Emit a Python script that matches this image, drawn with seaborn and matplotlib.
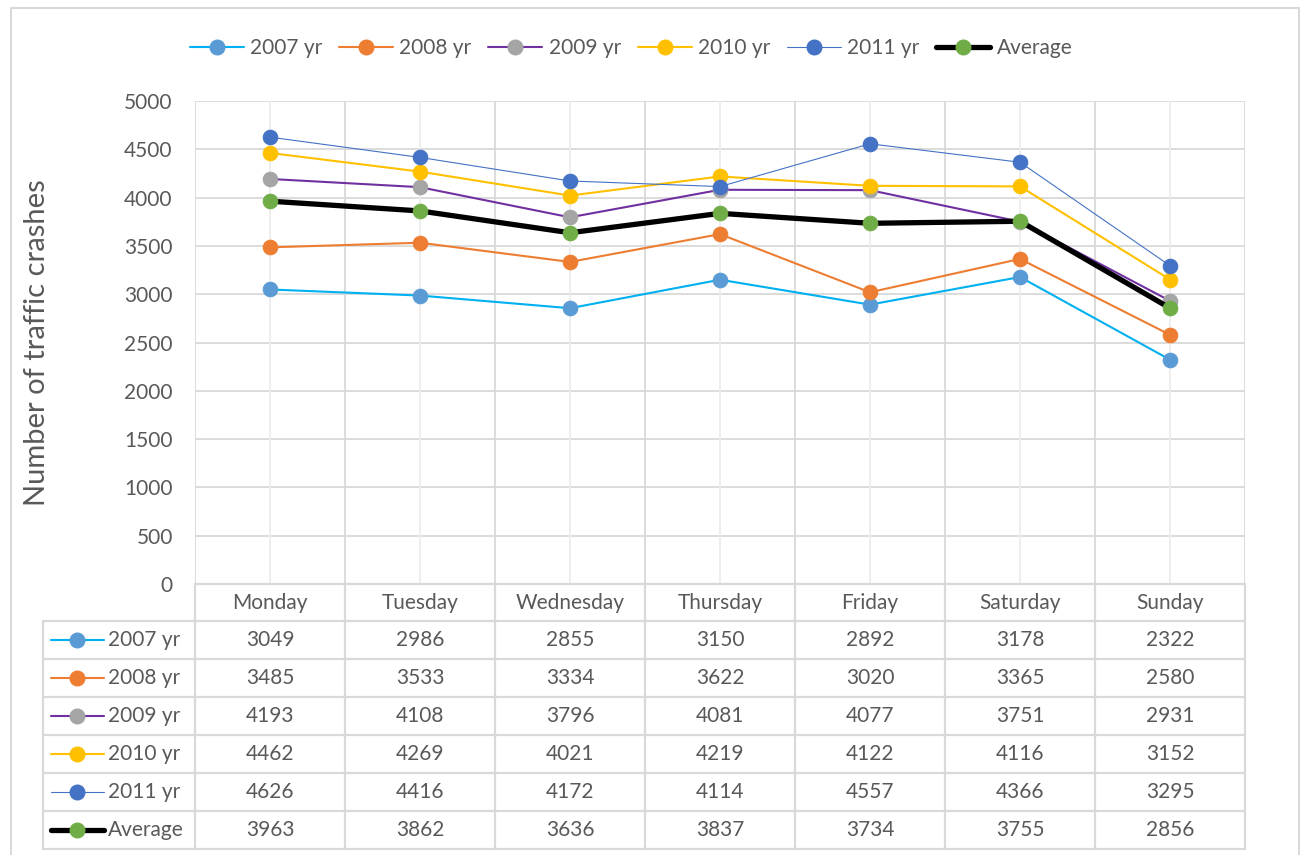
import matplotlib
matplotlib.use("Agg")
import matplotlib.pyplot as plt
from matplotlib.lines import Line2D
import seaborn as sns
import pandas as pd

days = ["Monday", "Tuesday", "Wednesday", "Thursday", "Friday", "Saturday", "Sunday"]
series_names = ["2007 yr", "2008 yr", "2009 yr", "2010 yr", "2011 yr", "Average"]
y2007 = [3049, 2986, 2855, 3150, 2892, 3178, 2322]
y2008 = [3485, 3533, 3334, 3622, 3020, 3365, 2580]
y2009 = [4193, 4108, 3796, 4081, 4077, 3751, 2931]
y2010 = [4462, 4269, 4021, 4219, 4122, 4116, 3152]
y2011 = [4626, 4416, 4172, 4114, 4557, 4366, 3295]
y_avg = [3963, 3862, 3636, 3837, 3734, 3755, 2856]
all_values = [y2007, y2008, y2009, y2010, y2011, y_avg]

# line colour, marker colour, line width (pt)
styles = [
    ("#00B0F0", "#5B9BD5", 1.5),
    ("#ED7D31", "#ED7D31", 1.5),
    ("#7030A0", "#A5A5A5", 1.5),
    ("#FFC000", "#FFC000", 1.5),
    ("#4472C4", "#4472C4", 0.8),
    ("#000000", "#70AD47", 3.8),
]

TXT = "#595959"
GRID = "#D9D9D9"
FS = 15

sns.set_theme(style="white")
plt.rcParams["font.family"] = ["Lato", "DejaVu Sans"]

W, H = 1301, 855
fig = plt.figure(figsize=(W / 100, H / 100), dpi=100)

# pixel helpers
def fx(px):
    return px / W

def fy(py):
    return 1 - py / H

left, right, top, bottom = 195, 1245, 101, 584
ax = fig.add_axes([fx(left), fy(bottom), fx(right - left), (bottom - top) / H])

df = pd.DataFrame({"day": days})
for name, vals in zip(series_names, all_values):
    df[name] = vals

handles = []
for name, (lc, mc, lw) in zip(series_names, styles):
    sns.lineplot(data=df, x="day", y=name, ax=ax, color=lc, lw=lw, marker="o",
                 markersize=10.5, markerfacecolor=mc, markeredgecolor=mc,
                 sort=False, legend=False)
    handles.append(Line2D([], [], color=lc, lw=lw, marker="o", markersize=10.5,
                          markerfacecolor=mc, markeredgecolor=mc))

ax.set_xlim(-0.5, 6.5)
ax.set_ylim(0, 5000)
ax.set_yticks(range(0, 5001, 500))
ax.set_xticks([])
ax.set_xlabel("")
ax.set_ylabel("Number of traffic crashes", fontsize=21, color=TXT)
ax.yaxis.set_label_coords((50 - left) / (right - left), 0.5)
ax.tick_params(axis="y", labelsize=FS, labelcolor=TXT, length=0, pad=16)
ax.grid(False)
for v in range(0, 5001, 500):
    ax.axhline(v, color=GRID, lw=1.3, zorder=0)
for i in range(15):
    ax.axvline(-0.5 + i * 0.5, color=GRID if i % 2 == 0 else "#EDEDED", lw=1.3, zorder=0)
for s in ax.spines.values():
    s.set_visible(False)

# legend at the top
fig.legend(handles, series_names, loc="center", bbox_to_anchor=(fx(631), fy(48)),
           ncol=6, frameon=False, fontsize=FS, handlelength=2.6,
           handletextpad=0.3, columnspacing=0.8, labelcolor=TXT)

# data table below the plot
col_w = (right - left) / 7
row_h = 38.0
tab_left = 43
rows_top = bottom + 37
rows_bot = rows_top + 6 * row_h
lkw = dict(color=GRID, lw=1.6, transform=fig.transFigure, clip_on=False)

# header row
for i in range(8):
    x = left + i * col_w
    fig.add_artist(Line2D([fx(x), fx(x)], [fy(bottom), fy(rows_bot)], **lkw))
fig.add_artist(Line2D([fx(left), fx(right)], [fy(bottom), fy(bottom)], **lkw))
for i, d in enumerate(days):
    fig.text(fx(left + (i + 0.5) * col_w), fy(bottom + 18.5), d, ha="center",
             va="center", fontsize=FS, color=TXT)

# body rows
for r in range(7):
    y = rows_top + r * row_h
    fig.add_artist(Line2D([fx(tab_left), fx(right)], [fy(y), fy(y)], **lkw))
fig.add_artist(Line2D([fx(tab_left), fx(tab_left)], [fy(rows_top), fy(rows_bot)], **lkw))

for r, (name, vals, (lc, mc, lw)) in enumerate(zip(series_names, all_values, styles)):
    yc = rows_top + (r + 0.5) * row_h
    fig.add_artist(Line2D([fx(51), fx(104)], [fy(yc), fy(yc)], color=lc, lw=lw,
                          transform=fig.transFigure))
    fig.add_artist(Line2D([fx(77)], [fy(yc)], marker="o", markersize=10.5,
                          markerfacecolor=mc, markeredgecolor=mc, lw=0,
                          transform=fig.transFigure))
    fig.text(fx(108), fy(yc), name, ha="left", va="center", fontsize=FS, color=TXT)
    for i, v in enumerate(vals):
        fig.text(fx(left + (i + 0.5) * col_w), fy(yc), str(v), ha="center",
                 va="center", fontsize=FS, color=TXT)

# outer frame of the chart
fig.add_artist(Line2D([fx(11), fx(11), fx(1299), fx(1299)], [0, fy(8), fy(8), 0],
                      color=GRID, lw=1.5, transform=fig.transFigure))

fig.savefig("out.png", dpi=100)
